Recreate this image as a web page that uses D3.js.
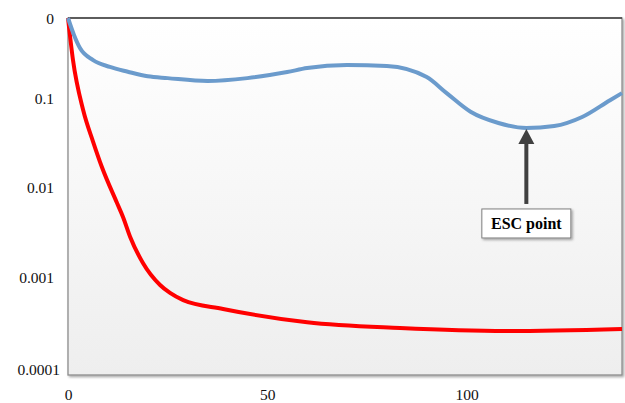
<!DOCTYPE html>
<html>
<head>
<meta charset="utf-8">
<script src="https://cdn.jsdelivr.net/npm/d3@7"></script>
<style>
  body { margin: 0; background: #fff; }
  svg { display: block; }
</style>
</head>
<body>
<script>
// x positions and values
var blueX = [0, 1.5, 3, 6.3, 10.5, 15, 20, 25, 35, 45, 55, 60, 70, 80, 90, 95, 101, 108, 115, 122, 129, 136, 139];
var blueY = [1, 0.645, 0.46, 0.338, 0.283, 0.25, 0.222, 0.212, 0.197, 0.212, 0.248, 0.275, 0.297, 0.29, 0.218, 0.144, 0.089, 0.0666, 0.0586, 0.0617, 0.0778, 0.12, 0.144];

var redX = [0, 1.25, 3.8, 6.3, 8.5, 12.3, 13.8, 15.6, 18.8, 23.1, 25.6, 28.9, 38.9, 60, 83.3, 110, 139];
var redY = [1, 0.338, 0.093, 0.041, 0.0214, 0.00845, 0.0059, 0.00352, 0.0018, 0.00102, 0.00083, 0.00069, 0.00055, 0.00039, 0.000336, 0.000311, 0.000328];

var yTicks = [0.0001, 0.001, 0.01, 0.1, 1];
var yTickLabels = ["0.0001", "0.001", "0.01", "0.1", "0"];
var xTicks = [0, 50, 100];
var escX = 115;
var escLabel = "ESC point";

var W = 625, H = 403;
var plotL = 68, plotR = 622, plotT = 18, plotB = 375;

var svg = d3.select("body").append("svg")
    .attr("width", W)
    .attr("height", H);

var defs = svg.append("defs");
var grad = defs.append("linearGradient")
    .attr("id", "bg")
    .attr("x1", 0).attr("y1", 0).attr("x2", 0).attr("y2", 1);
grad.append("stop").attr("offset", "0%").attr("stop-color", "#ffffff");
grad.append("stop").attr("offset", "100%").attr("stop-color", "#eeeeee");

var shadow = defs.append("filter").attr("id", "shadow")
    .attr("x", "-10%").attr("y", "-10%").attr("width", "130%").attr("height", "130%");
shadow.append("feDropShadow")
    .attr("dx", 1.5).attr("dy", 1.5)
    .attr("stdDeviation", 1.2)
    .attr("flood-color", "#000")
    .attr("flood-opacity", 0.35);

var x = d3.scaleLinear().domain([0, 139]).range([plotL, plotR]);
var y = d3.scaleLog().domain([0.0001, 1]).range([plotB, plotT]);

// plot area
svg.append("rect")
    .attr("x", plotL).attr("y", plotT)
    .attr("width", plotR - plotL).attr("height", plotB - plotT)
    .attr("fill", "url(#bg)")
    .attr("stroke", "#8c8c8c")
    .attr("stroke-width", 1.3)
    .attr("filter", "url(#shadow)");
svg.append("line")
    .attr("x1", plotL).attr("x2", plotR)
    .attr("y1", plotT).attr("y2", plotT)
    .attr("stroke", "#404040")
    .attr("stroke-width", 1.3);

// axes
var yAxis = d3.axisLeft(y)
    .tickValues(yTicks)
    .tickSize(0)
    .tickPadding(14)
    .tickFormat(function(d, i) { return yTickLabels[i]; });
var gy = svg.append("g")
    .attr("transform", "translate(" + plotL + ",0)")
    .call(yAxis);
gy.select(".domain").remove();
gy.selectAll("text")
    .style("font-family", "'Liberation Serif', 'Times New Roman', serif")
    .style("font-size", "15.5px")
    .attr("fill", "#111")
    .attr("dx", function(d, i) { return i === 0 ? 6 : 0; })
    .attr("dy", function(d, i) {
      if (i === 0) return "-0.05em";
      if (i === 4) return "0.38em";
      return "-0.23em";
    });

var xAxis = d3.axisBottom(x)
    .tickValues(xTicks)
    .tickSize(0)
    .tickPadding(14);
var gx = svg.append("g")
    .attr("transform", "translate(0," + plotB + ")")
    .call(xAxis);
gx.select(".domain").remove();
gx.selectAll("text")
    .style("font-family", "'Liberation Serif', 'Times New Roman', serif")
    .style("font-size", "15.5px")
    .attr("fill", "#111");

// series
var blueData = blueX.map(function(d, i) { return [d, blueY[i]]; });
var redData = redX.map(function(d, i) { return [d, redY[i]]; });

var line = d3.line()
    .x(function(d) { return x(d[0]); })
    .y(function(d) { return y(d[1]); })
    .curve(d3.curveMonotoneX);

svg.append("path")
    .datum(redData)
    .attr("d", line)
    .attr("fill", "none")
    .attr("stroke", "#ff0000")
    .attr("stroke-width", 4)
    .attr("stroke-linejoin", "round");

svg.append("path")
    .datum(blueData)
    .attr("d", line)
    .attr("fill", "none")
    .attr("stroke", "#6b9bcc")
    .attr("stroke-width", 4)
    .attr("stroke-linejoin", "round");

// ESC point annotation
var escVal = blueY[blueX.indexOf(escX)];
var ax = x(escX), tipY = y(escVal) + 1;
var boxTop = tipY + 80;

svg.append("line")
    .attr("x1", ax).attr("x2", ax)
    .attr("y1", tipY + 12).attr("y2", boxTop - 5)
    .attr("stroke", "#404040")
    .attr("stroke-width", 4);
svg.append("path")
    .attr("d", "M" + ax + "," + tipY + " L" + (ax - 8) + "," + (tipY + 15) + " L" + (ax + 8) + "," + (tipY + 15) + " Z")
    .attr("fill", "#404040");

var bw = 89, bh = 29;
svg.append("rect")
    .attr("x", ax - bw / 2).attr("y", boxTop)
    .attr("width", bw).attr("height", bh)
    .attr("fill", "#ffffff")
    .attr("stroke", "#7f7f7f")
    .attr("stroke-width", 1)
    .attr("filter", "url(#shadow)");
svg.append("text")
    .attr("x", ax).attr("y", boxTop + bh / 2)
    .attr("dy", "0.35em")
    .attr("text-anchor", "middle")
    .style("font-family", "'Liberation Serif', 'Times New Roman', serif")
    .style("font-size", "16px")
    .style("font-weight", "bold")
    .text(escLabel);
</script>
</body>
</html>
